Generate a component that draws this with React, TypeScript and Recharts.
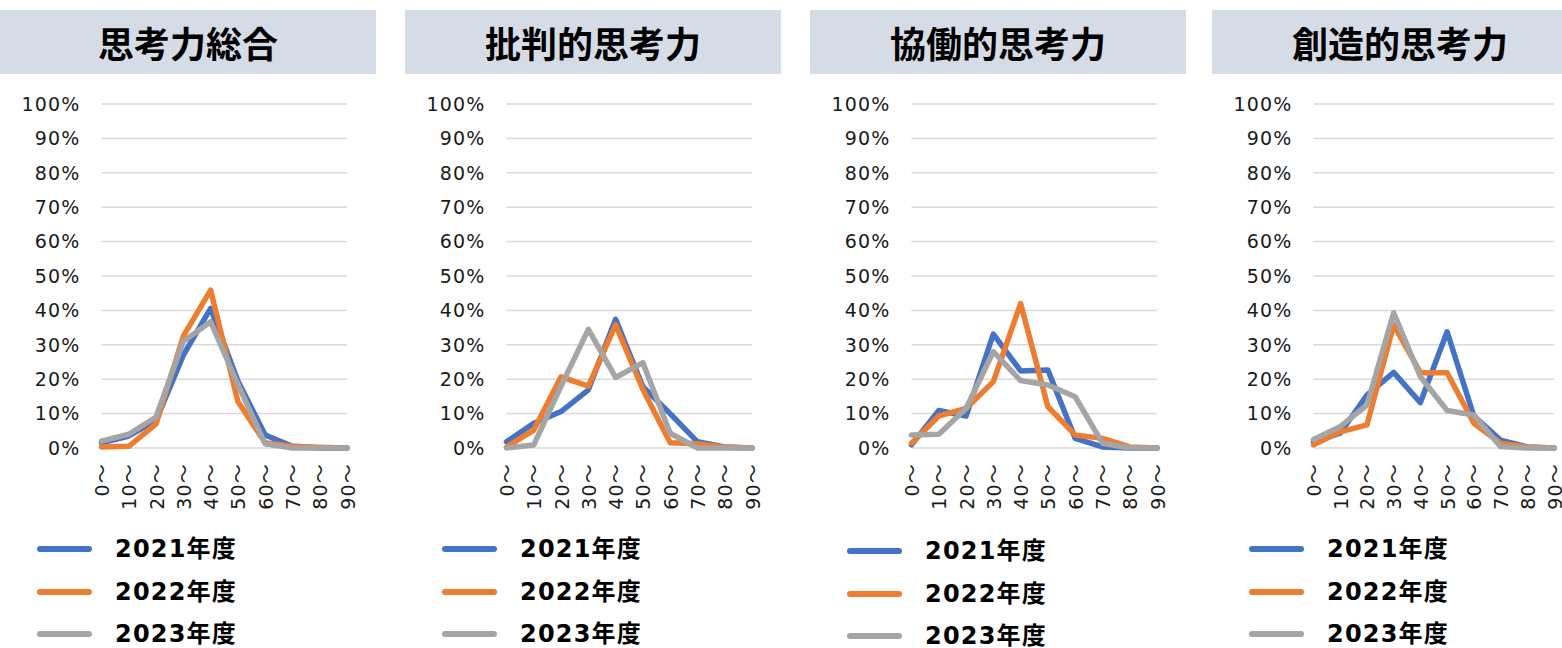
import { LineChart, Line, XAxis, YAxis, CartesianGrid } from 'recharts';

// ── Data ───────────────────────────────────────────────────────────────────

const categories = ['0～', '10～', '20～', '30～', '40～', '50～', '60～', '70～', '80～', '90～'];
const yTicks = [0, 10, 20, 30, 40, 50, 60, 70, 80, 90, 100];
const years = ['2021年度', '2022年度', '2023年度'];

// 思考力総合
const sougou2021 = [1.5, 3.5, 8, 27, 40.6, 19.5, 3.8, 0.5, 0, 0];
const sougou2022 = [0.3, 0.5, 7, 32.5, 45.9, 13.5, 1.5, 0.5, 0.2, 0];
const sougou2023 = [2, 4, 9, 31, 36.7, 18.5, 1.2, 0, 0, 0];

// 批判的思考力
const hihan2021 = [1.8, 7.2, 10.6, 16.9, 37.4, 17.8, 10, 1.8, 0.3, 0];
const hihan2022 = [0.3, 5.2, 20.7, 18, 35.8, 17, 1.5, 1.2, 0.3, 0];
const hihan2023 = [0, 0.9, 18, 34.5, 20.5, 24.8, 4.3, 0, 0, 0];

// 協働的思考力
const kyoudou2021 = [0.9, 10.9, 9.3, 33.1, 22.4, 22.7, 2.8, 0.3, 0, 0];
const kyoudou2022 = [1.4, 9.3, 11.5, 19.3, 42, 12, 3.8, 2.8, 0.3, 0];
const kyoudou2023 = [3.8, 4, 11.5, 28, 19.6, 18.3, 14.9, 1.4, 0, 0];

// 創造的思考力
const souzou2021 = [1.8, 4.3, 15.4, 22, 13.2, 33.8, 9.3, 2.3, 0.3, 0];
const souzou2022 = [0.9, 4.7, 6.7, 35.8, 21.9, 21.9, 7.2, 1.4, 0.3, 0];
const souzou2023 = [2.5, 6.2, 12.5, 39.3, 20.7, 10.9, 9.6, 0.4, 0, 0];

const COLORS = ['#4472C4', '#ED7D31', '#A5A5A5'];
const KEYS = ['y2021', 'y2022', 'y2023'];

const panels = [
  { title: '思考力総合', series: [sougou2021, sougou2022, sougou2023], left: 0, right: 33, legendShift: 0 },
  { title: '批判的思考力', series: [hihan2021, hihan2022, hihan2023], left: 405, right: 33, legendShift: 0 },
  { title: '協働的思考力', series: [kyoudou2021, kyoudou2022, kyoudou2023], left: 810, right: 33, legendShift: 1.5 },
  { title: '創造的思考力', series: [souzou2021, souzou2022, souzou2023], left: 1212, right: 38, legendShift: 0 },
];

const NUM_FONT = "'DejaVu Sans', 'Noto Sans CJK JP', sans-serif";
const LEGEND_ROWS = [549, 592, 634];

// ── Rotated category tick ──────────────────────────────────────────────────

function XTick({ x, y, payload }: any) {
  const ty = y + 15;
  return (
    <text
      x={x}
      y={ty}
      dy={7.5}
      transform={`rotate(-90 ${x} ${ty})`}
      textAnchor="end"
      fontSize={19}
      letterSpacing={1.2}
      fontFamily={NUM_FONT}
      fill="#1a1a1a"
    >
      {payload.value}
    </text>
  );
}

// ── One panel ──────────────────────────────────────────────────────────────

function Panel({ title, series, left, right, legendShift }: any) {
  const data = categories.map((c, i) => ({
    name: c,
    y2021: series[0][i],
    y2022: series[1][i],
    y2023: series[2][i],
  }));

  return (
    <div style={{ position: 'absolute', left, top: 0, width: 380, height: 648 }}>
      {/* title bar */}
      <div
        style={{
          position: 'absolute', left: 0, top: 10, width: 376, height: 64,
          background: '#D6DCE5', display: 'flex', alignItems: 'center', justifyContent: 'center',
          fontFamily: "'Noto Sans CJK JP', sans-serif", fontWeight: 700, fontSize: 36, color: '#000',
          lineHeight: '64px',
        }}
      >
        {title}
      </div>

      <div style={{ position: 'absolute', left: 0, top: 80 }}>
        <LineChart width={380} height={440} data={data} margin={{ top: 24, right, left: 0, bottom: 0 }}>
          <CartesianGrid stroke="#D9D9D9" strokeWidth={1.5} vertical={false} />
          <XAxis
            dataKey="name"
            interval={0}
            height={72}
            axisLine={false}
            tickLine={false}
            tickSize={0}
            tickMargin={0}
            tick={<XTick />}
          />
          <YAxis
            type="number"
            domain={[0, 100]}
            ticks={yTicks}
            width={101.5}
            axisLine={false}
            tickLine={false}
            tickSize={0}
            tickMargin={21}
            tickFormatter={(v) => `${v}%`}
            tick={{ fontSize: 19, fill: '#1a1a1a', fontFamily: NUM_FONT, letterSpacing: 1.2 }}
          />
          {KEYS.map((k, i) => (
            <Line
              key={k}
              type="linear"
              dataKey={k}
              stroke={COLORS[i]}
              strokeWidth={5.5}
              strokeLinejoin="round"
              strokeLinecap="round"
              dot={false}
              activeDot={false}
              isAnimationActive={false}
            />
          ))}
        </LineChart>
      </div>

      {/* legend */}
      {years.map((yr, i) => (
        <div
          key={yr}
          style={{
            position: 'absolute', left: 0, top: LEGEND_ROWS[i] + legendShift - 13, height: 26, width: 380,
          }}
        >
          <span
            style={{
              position: 'absolute', left: 37, top: 10, width: 55, height: 6,
              borderRadius: 3, background: COLORS[i],
            }}
          />
          <span
            style={{
              position: 'absolute', left: 115, top: 0, lineHeight: '26px',
              fontFamily: NUM_FONT, fontWeight: 700, fontSize: 24, letterSpacing: 1.2, color: '#000',
              whiteSpace: 'nowrap',
            }}
          >
            {yr}
          </span>
        </div>
      ))}
    </div>
  );
}

export default function App() {
  return (
    <div style={{ position: 'absolute', left: 0, top: 0, width: 1562, height: 648, overflow: 'hidden', background: '#fff' }}>
      {panels.map((p) => (
        <Panel key={p.title} {...p} />
      ))}
    </div>
  );
}
